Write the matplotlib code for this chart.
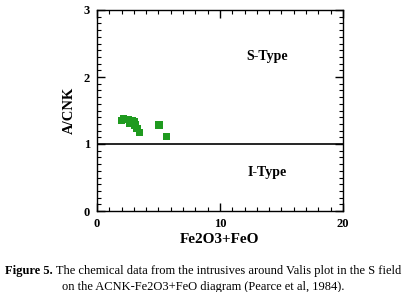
import numpy as np
import matplotlib.pyplot as plt
from matplotlib.ticker import MultipleLocator

# datos
fe_total = [2.0, 2.15, 2.55, 2.85, 2.7, 3.05, 3.1, 3.25, 3.45, 5.05, 5.65]
acnk = [1.35, 1.38, 1.365, 1.345, 1.305, 1.33, 1.28, 1.23, 1.17, 1.28, 1.11]

plt.rcParams['font.family'] = ['Liberation Serif', 'DejaVu Serif']

fig = plt.figure(figsize=(4.06, 2.92), dpi=100)
ax = fig.add_axes([97 / 406, 1 - 211 / 292, 246 / 406, 201 / 292])

ax.scatter(fe_total, acnk, marker='s', s=30, color='#1f9a1f', edgecolors='none', zorder=3)
ax.axhline(1, color='black', lw=1.2)

ax.set_xlim(0, 20)
ax.set_ylim(0, 3)
ax.xaxis.set_major_locator(MultipleLocator(10))
ax.xaxis.set_minor_locator(MultipleLocator(1))
ax.yaxis.set_major_locator(MultipleLocator(1))
ax.yaxis.set_minor_locator(MultipleLocator(0.1))
ax.tick_params(which='both', direction='in', top=True, right=True, labelsize=9, pad=5)
ax.tick_params(which='major', length=6, width=1)
ax.tick_params(which='minor', length=3, width=0.8)
for lbl in ax.get_xticklabels() + ax.get_yticklabels():
    lbl.set_fontweight('bold')
for s in ax.spines.values():
    s.set_linewidth(1)

ax.text(13.8, 2.3, 'S-Type', fontsize=10, fontweight='bold', ha='center', va='center')
ax.text(13.8, 0.58, 'I-Type', fontsize=10, fontweight='bold', ha='center', va='center')

ax.set_xlabel('Fe2O3+FeO', fontsize=11, fontweight='bold', labelpad=2)
ax.set_ylabel('A/CNK', fontsize=10.5, fontweight='bold', labelpad=6)

# pie de figura, centrado midiendo los dos trozos de la primera linea
y1 = 1 - 271 / 292
t_bold = fig.text(0, y1, 'Figure 5.', fontsize=9, fontweight='bold', ha='left', va='center')
t_rest = fig.text(0, y1, ' The chemical data from the intrusives around Valis plot in the S field',
                  fontsize=9, ha='left', va='center')
renderer = fig.canvas.get_renderer()
w_bold = t_bold.get_window_extent(renderer).width
w_rest = t_rest.get_window_extent(renderer).width
x0 = (406 - w_bold - w_rest) / 2
t_bold.set_x(x0 / 406)
t_rest.set_x((x0 + w_bold) / 406)
fig.text(0.5, 1 - 287 / 292, 'on the ACNK-Fe2O3+FeO diagram (Pearce et al, 1984).',
         fontsize=9, ha='center', va='center')

fig.savefig('out.png', dpi=100)
